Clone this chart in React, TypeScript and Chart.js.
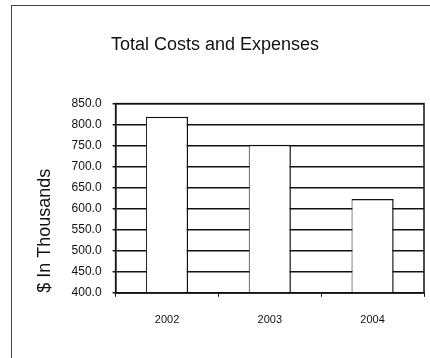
import React, { useEffect, useRef } from "react";
import { Chart, registerables } from "chart.js";

Chart.register(...registerables);

const years = ["2002", "2003", "2004"];
const totalCosts = [819, 752, 623];
const yMin = 400;
const yMax = 850;
const yStep = 50;

const FONT = "'Liberation Sans', Arial, sans-serif";

// Black frame around the plotting area (top and right edges)
const plotFrame = {
  id: "plotFrame",
  afterDatasetsDraw(chart: any) {
    const { ctx, chartArea } = chart;
    ctx.save();
    ctx.strokeStyle = "#111";
    ctx.lineWidth = 1.5;
    ctx.strokeRect(chartArea.left, chartArea.top, chartArea.right - chartArea.left, chartArea.bottom - chartArea.top);
    ctx.restore();
  },
};

export default function App() {
  const ref = useRef<HTMLCanvasElement | null>(null);

  useEffect(() => {
    if (!ref.current) return;
    const chart = new Chart(ref.current, {
      type: "bar",
      data: {
        labels: years,
        datasets: [
          {
            data: totalCosts,
            backgroundColor: "#ffffff",
            borderColor: "#111",
            borderWidth: { top: 1.5, right: 1.5, left: 1, bottom: 0 },
            barPercentage: 0.41,
            categoryPercentage: 1,
          },
        ],
      },
      plugins: [plotFrame],
      options: {
        responsive: false,
        animation: false,
        layout: { padding: { left: 6, right: 6, top: 0, bottom: 14 } },
        plugins: {
          legend: { display: false },
          tooltip: { enabled: false },
          title: {
            display: true,
            text: "Total Costs and Expenses",
            color: "#111",
            font: { family: FONT, size: 18, weight: "normal" },
            padding: { top: 34, bottom: 48 },
          },
        },
        scales: {
          x: {
            grid: {
              display: true,
              drawOnChartArea: false,
              drawTicks: true,
              tickLength: 4,
              color: "#111",
              lineWidth: 1,
            },
            border: { display: true, color: "#111", width: 1.5 },
            ticks: {
              color: "#111",
              font: { family: FONT, size: 11 },
              padding: 17,
            },
          },
          y: {
            min: yMin,
            max: yMax,
            ticks: {
              stepSize: yStep,
              color: "#111",
              font: { family: FONT, size: 12 },
              padding: 11,
              callback: (v: any) => Number(v).toFixed(1),
            },
            grid: {
              color: "#111",
              lineWidth: 1.5,
              drawTicks: true,
              tickLength: 3,
            },
            border: { display: true, color: "#111", width: 1.5 },
            title: {
              display: true,
              text: "$ In Thousands",
              align: "start",
              color: "#111",
              font: { family: FONT, size: 18, weight: "normal" },
              padding: { top: 28, bottom: 5 },
            },
          },
        },
      },
    });
    return () => chart.destroy();
  }, []);

  return (
    <div style={{ position: "fixed", left: 0, top: 0, width: 430, height: 358, background: "#fff" }}>
      <div
        style={{
          position: "absolute",
          left: 11,
          top: 5,
          width: 419,
          height: 353,
          borderLeft: "1px solid #444",
          borderTop: "1px solid #444",
        }}
      />
      <canvas ref={ref} width={430} height={358} style={{ position: "absolute", left: 0, top: 0 }} />
    </div>
  );
}
